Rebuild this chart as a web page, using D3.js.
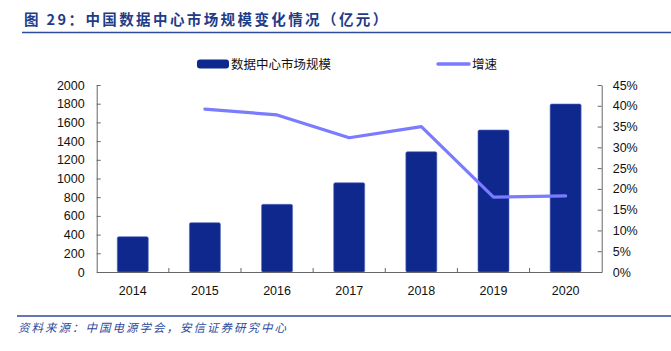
<!DOCTYPE html>
<meta charset="utf-8">
<script src="https://d3js.org/d3.v7.min.js"></script>
<style>
  body { margin: 0; background: #fff; }
  text { font-family: "Liberation Sans", Arial, sans-serif; }
  .cjk { font-family: "Noto Sans CJK SC", sans-serif; }
</style>
<svg id="chart" width="671" height="351"></svg>
<script>
// data
const years = ["2014", "2015", "2016", "2017", "2018", "2019", "2020"];
const marketSize = [378, 528, 724, 955, 1287, 1519, 1797];
const growth = [null, 39.2, 37.8, 32.3, 35.0, 18.0, 18.3];
const leftTicks = [0, 200, 400, 600, 800, 1000, 1200, 1400, 1600, 1800, 2000];
const rightTicks = [0, 5, 10, 15, 20, 25, 30, 35, 40, 45];

const svg = d3.select("#chart");
const plotL = 96.7, plotR = 601.7, plotT = 85, plotB = 272;

const x = d3.scaleBand().domain(years).range([plotL, plotR]).paddingInner(0.57).paddingOuter(0.285);
const xTicks = d3.scaleBand().domain(years).range([plotL, plotR]);
const yL = d3.scaleLinear().domain([0, 2000]).range([plotB, plotT]);
const yR = d3.scaleLinear().domain([0, 45]).range([plotB, plotT]);

// title
svg.append("text").attr("class", "cjk")
  .attr("x", 24).attr("y", 25)
  .attr("fill", "#1F3C88").attr("font-size", 14.5).attr("font-weight", "bold")
  .attr("letter-spacing", 2.4)
  .text("图 29：中国数据中心市场规模变化情况（亿元）");
svg.append("line").attr("x1", 22).attr("x2", 671).attr("y1", 32.5).attr("y2", 32.5)
  .attr("stroke", "#2E4A9A").attr("stroke-width", 1.5);

// bars
svg.append("g").selectAll("rect")
  .data(marketSize)
  .join("rect")
  .attr("x", (d, i) => x(years[i]))
  .attr("y", d => yL(d))
  .attr("width", x.bandwidth())
  .attr("height", d => plotB - yL(d))
  .attr("rx", 1.5)
  .attr("fill", "#0E288E")
  .attr("stroke", "#5a6fc0").attr("stroke-width", 0.6);

// growth line
const line = d3.line()
  .defined(d => d != null)
  .x((d, i) => x(years[i]) + x.bandwidth() / 2)
  .y(d => yR(d));
svg.append("path")
  .datum(growth)
  .attr("d", line)
  .attr("fill", "none")
  .attr("stroke", "#7B7BFF")
  .attr("stroke-width", 3.2)
  .attr("stroke-linejoin", "round")
  .attr("stroke-linecap", "round");

// axes
const axL = svg.append("g").attr("transform", `translate(${plotL},0)`)
  .call(d3.axisLeft(yL).tickValues(leftTicks).tickFormat(d3.format("d"))
    .tickSizeInner(-4).tickSizeOuter(0).tickPadding(12));

const axR = svg.append("g").attr("transform", `translate(${plotR},0)`)
  .call(d3.axisRight(yR).tickValues(rightTicks).tickFormat(d => d + "%")
    .tickSizeInner(-4).tickSizeOuter(0).tickPadding(11));

const axX = svg.append("g").attr("transform", `translate(0,${plotB})`)
  .call(d3.axisBottom(xTicks).tickSize(0).tickSizeOuter(0).tickPadding(14));
// category separator ticks
svg.append("g").selectAll("line")
  .data(years.slice(1))
  .join("line")
  .attr("x1", d => xTicks(d)).attr("x2", d => xTicks(d))
  .attr("y1", plotB).attr("y2", plotB - 4)
  .attr("stroke", "#666");

[axL, axR, axX].forEach(a => {
  a.selectAll("path, line").attr("stroke", "#666");
  a.selectAll("text").attr("fill", "#111").attr("font-size", 12.5)
    .attr("font-family", "Liberation Sans, Arial, sans-serif");
});

// legend
const lg = svg.append("g");
lg.append("rect").attr("x", 197).attr("y", 59.5).attr("width", 32).attr("height", 9).attr("rx", 3)
  .attr("fill", "#0E288E");
lg.append("text").attr("class", "cjk").attr("x", 231).attr("y", 68.5).attr("font-size", 12.5)
  .attr("fill", "#111").text("数据中心市场规模");
lg.append("line").attr("x1", 438).attr("x2", 469).attr("y1", 64).attr("y2", 64)
  .attr("stroke", "#7B7BFF").attr("stroke-width", 3.5).attr("stroke-linecap", "round");
lg.append("text").attr("class", "cjk").attr("x", 472).attr("y", 68.5).attr("font-size", 12.5)
  .attr("fill", "#111").text("增速");

// source
svg.append("line").attr("x1", 17).attr("x2", 671).attr("y1", 316).attr("y2", 316)
  .attr("stroke", "#2E4A9A").attr("stroke-width", 1.5);
svg.append("text").attr("class", "cjk")
  .attr("x", 18).attr("y", 332)
  .attr("fill", "#2E4A9A").attr("font-size", 11.5).attr("font-style", "italic")
  .attr("letter-spacing", 2)
  .text("资料来源：中国电源学会，安信证券研究中心");
</script>
